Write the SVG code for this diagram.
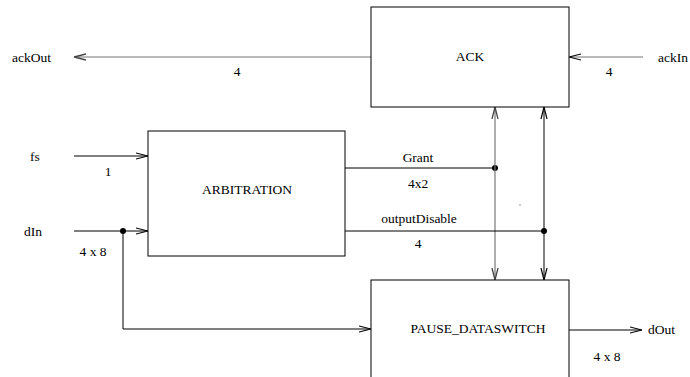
<svg xmlns="http://www.w3.org/2000/svg" width="690" height="377" viewBox="0 0 690 377">
  <style>
    text { font-family: "Liberation Serif", "Times New Roman", serif; font-size: 13.5px; fill: #000; }
    .box { fill: #fff; stroke: #000; stroke-width: 1; }
    .w { fill: none; stroke: #000; stroke-width: 1; }
    .g { fill: none; stroke: #777; stroke-width: 1.2; }
    .mid { text-anchor: middle; }
  </style>
  <defs>
    <marker id="arr" viewBox="0 0 12 8" refX="12" refY="4" markerWidth="12" markerHeight="8" markerUnits="userSpaceOnUse" orient="auto-start-reverse">
      <path d="M0,1 L12,4 L0,7" fill="none" stroke="#000" stroke-width="1.2"/>
    </marker>
    <marker id="arrg" viewBox="0 0 12 8" refX="12" refY="4" markerWidth="12" markerHeight="8" markerUnits="userSpaceOnUse" orient="auto-start-reverse">
      <path d="M0,1 L12,4 L0,7" fill="none" stroke="#444" stroke-width="1.3"/>
    </marker>
  </defs>

  <g id="connectors">
    <!-- ACK output to the left -->
    <line class="g" x1="371" y1="57" x2="74" y2="57" marker-end="url(#arrg)"/>
    <!-- ackIn into ACK -->
    <line class="g" x1="643" y1="57" x2="569" y2="57" marker-end="url(#arr)"/>
    <!-- fs into ARBITRATION -->
    <line class="w" x1="74" y1="156" x2="148" y2="156" marker-end="url(#arr)"/>
    <!-- dIn into ARBITRATION, branching to PAUSE_DATASWITCH -->
    <line class="w" x1="74" y1="231" x2="148" y2="231" marker-end="url(#arr)"/>
    <polyline class="w" points="123,231 123,329 371,329" marker-end="url(#arr)"/>
    <circle cx="123" cy="231" r="3" fill="#000"/>
    <!-- Grant -->
    <line class="w" x1="345" y1="168" x2="495" y2="168"/>
    <circle cx="495" cy="168" r="3" fill="#000"/>
    <line class="g" x1="495" y1="107" x2="495" y2="280" marker-start="url(#arrg)" marker-end="url(#arrg)"/>
    <!-- outputDisable -->
    <line class="w" x1="345" y1="231" x2="544" y2="231"/>
    <circle cx="544" cy="231" r="3" fill="#000"/>
    <line class="w" x1="544" y1="107" x2="544" y2="280" marker-start="url(#arr)" marker-end="url(#arr)"/>
    <!-- dOut -->
    <line class="w" x1="569" y1="330" x2="642" y2="330" marker-end="url(#arr)"/>
    <rect x="519.5" y="204.5" width="1" height="1" fill="#333"/>
  </g>

  <g id="ack">
    <rect class="box" x="371" y="7" width="198" height="100"/>
    <text class="mid" x="470" y="61">ACK</text>
  </g>

  <g id="arbitration">
    <rect class="box" x="148" y="131" width="197" height="125"/>
    <text class="mid" x="247" y="194">ARBITRATION</text>
  </g>

  <g id="pause-dataswitch">
    <rect class="box" x="371" y="280" width="198" height="110"/>
    <text class="mid" x="478" y="333">PAUSE_DATASWITCH</text>
  </g>

  <g id="labels">
    <text x="12" y="62">ackOut</text>
    <text class="mid" x="237" y="76">4</text>
    <text x="658" y="62">ackIn</text>
    <text class="mid" x="609" y="76">4</text>
    <text x="30" y="161">fs</text>
    <text class="mid" x="108" y="176">1</text>
    <text x="24" y="236">dIn</text>
    <text class="mid" x="93" y="256">4 x 8</text>
    <text class="mid" x="418" y="162">Grant</text>
    <text class="mid" x="418" y="188">4x2</text>
    <text class="mid" x="419" y="223">outputDisable</text>
    <text class="mid" x="418" y="248">4</text>
    <text x="648" y="334">dOut</text>
    <text class="mid" x="607" y="361">4 x 8</text>
  </g>
</svg>
